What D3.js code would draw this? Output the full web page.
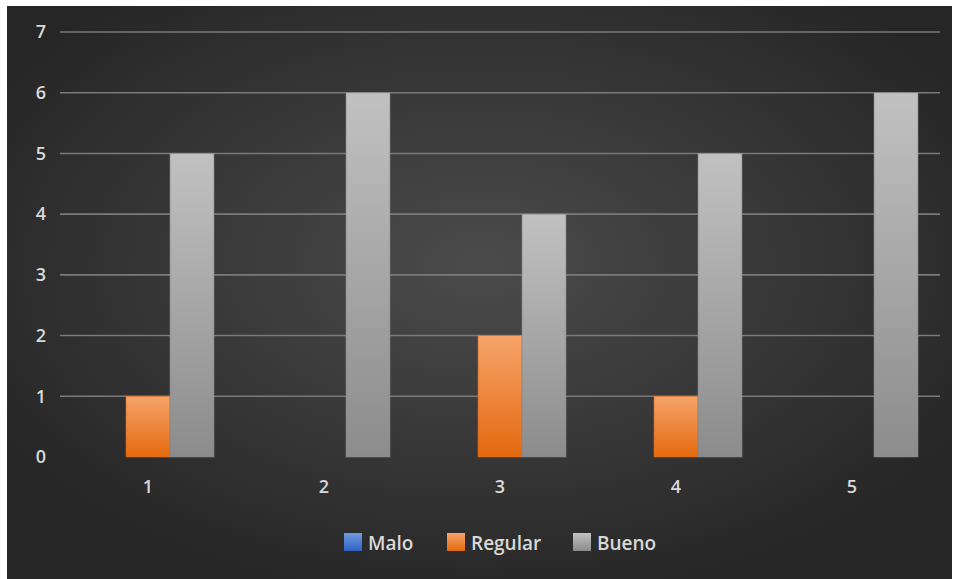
<!DOCTYPE html>
<html><head><meta charset="utf-8">
<script src="https://cdn.jsdelivr.net/npm/d3@7/dist/d3.min.js"></script>
<style>html,body{margin:0;padding:0;background:#fff;}svg{display:block;}</style>
</head><body>
<script>
const categories = ["1","2","3","4","5"];
const seriesNames = ["Malo","Regular","Bueno"];
const malo = [0,0,0,0,0];
const regular = [1,0,2,1,0];
const bueno = [5,6,4,5,6];
const yTicks = [0,1,2,3,4,5,6,7];

const W = 955, H = 579;
const svg = d3.select("body").append("svg").attr("width", W).attr("height", H);
const defs = svg.append("defs");
const bg = defs.append("radialGradient").attr("id","bg").attr("cx","50%").attr("cy","45%").attr("r","60%");
bg.append("stop").attr("offset","0%").attr("stop-color","#4b4b4b");
bg.append("stop").attr("offset","100%").attr("stop-color","#262626");

const grads = [
  ["gMalo","#6f9be0","#2f62c4"],
  ["gReg","#f6a46a","#e4690f"],
  ["gBue","#c1c1c1","#8c8c8c"]
];
grads.forEach(([id,c0,c1])=>{
  const g = defs.append("linearGradient").attr("id",id).attr("x1",0).attr("y1",0).attr("x2",0).attr("y2",1);
  g.append("stop").attr("offset","0%").attr("stop-color",c0);
  g.append("stop").attr("offset","100%").attr("stop-color",c1);
});

svg.append("rect").attr("x",7).attr("y",6).attr("width",945).attr("height",573).attr("fill","url(#bg)");

const x0 = d3.scaleBand().domain(categories).range([60,940]).paddingInner(0.25).paddingOuter(0.125);
const x1 = d3.scaleBand().domain(seriesNames).range([0, x0.bandwidth()]);
const y = d3.scaleLinear().domain([0,7]).range([457,32]);

const grid = svg.append("g");
grid.selectAll("line").data(yTicks.filter(d=>d>0)).join("line")
  .attr("x1",60).attr("x2",940).attr("y1",d=>y(d)).attr("y2",d=>y(d))
  .attr("stroke","#7a7a7a").attr("stroke-width",1.6);

const font = "'Open Sans', sans-serif";
const yAxis = d3.axisLeft(y).tickValues(yTicks).tickSize(0).tickPadding(14).tickFormat(d3.format("d"));
const ya = svg.append("g").attr("transform","translate(60,0)").call(yAxis);
ya.select(".domain").remove();
ya.selectAll("text").attr("fill","#d9d9d9").attr("font-size","18px").attr("font-weight",600).attr("font-family",font);

const xAxis = d3.axisBottom(x0).tickSize(0).tickPadding(23);
const xa = svg.append("g").attr("transform","translate(0,457)").call(xAxis);
xa.select(".domain").remove();
xa.selectAll("text").attr("fill","#d9d9d9").attr("font-size","18px").attr("font-weight",600).attr("font-family",font);

const data = [malo, regular, bueno];
const fills = ["url(#gMalo)","url(#gReg)","url(#gBue)"];
const strokes = ["#2a58b0","#d8661c","#858585"];
seriesNames.forEach((s,si)=>{
  svg.append("g").selectAll("rect").data(categories.map((c,i)=>({c, v:data[si][i]})).filter(d=>d.v>0)).join("rect")
    .attr("x",d=>x0(d.c)+x1(s)).attr("width",x1.bandwidth())
    .attr("y",d=>y(d.v)).attr("height",d=>y(0)-y(d.v))
    .attr("fill",fills[si]).attr("stroke",strokes[si]).attr("stroke-opacity",0.6).attr("stroke-width",1);
});

const legend = svg.append("g");
const legItems = [
  {name:"Malo", fill:"url(#gMalo)", x:344},
  {name:"Regular", fill:"url(#gReg)", x:447},
  {name:"Bueno", fill:"url(#gBue)", x:573}
];
legItems.forEach(it=>{
  legend.append("rect").attr("x",it.x).attr("y",533).attr("width",18).attr("height",18).attr("fill",it.fill);
  legend.append("text").attr("x",it.x+24).attr("y",543).attr("dy","0.35em")
    .attr("fill","#d9d9d9").attr("font-size","19px").attr("font-weight",600).attr("font-family",font).text(it.name);
});
</script>
</body></html>
